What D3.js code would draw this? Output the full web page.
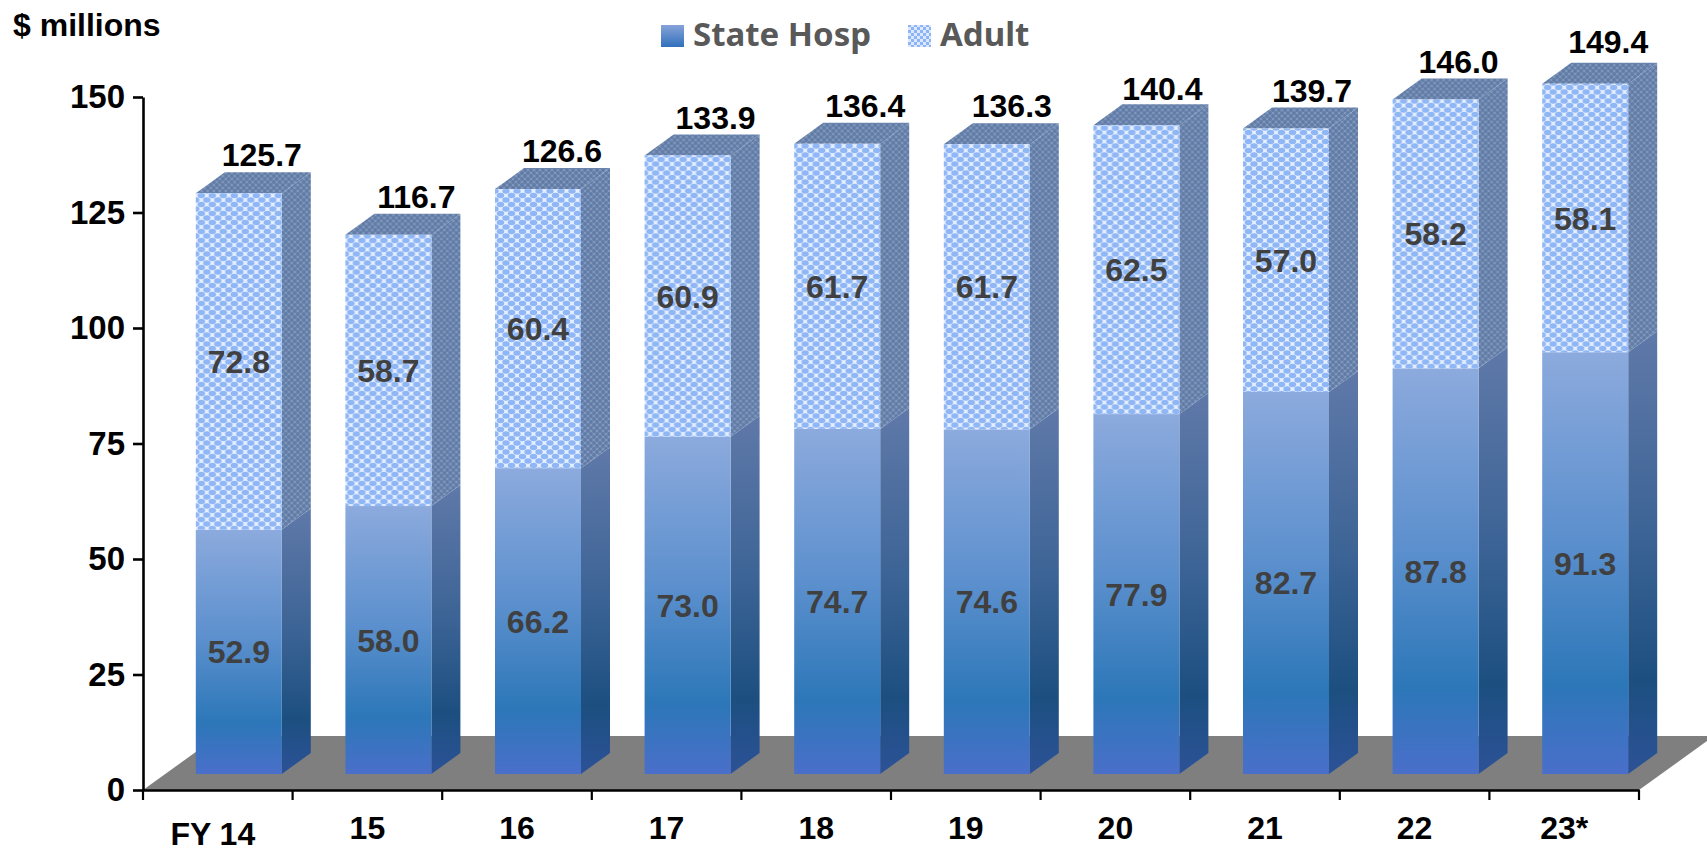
<!DOCTYPE html>
<html>
<head>
<meta charset="utf-8">
<title>State Hosp and Adult, $ millions</title>
<script src="https://cdn.jsdelivr.net/npm/d3@7"></script>
<style>
  html, body { margin: 0; padding: 0; background: #fff; overflow: hidden; }
  text { font-family: "Liberation Sans", Arial, sans-serif; font-weight: 700; }
</style>
</head>
<body>
<svg id="chart" width="1707" height="852"></svg>
<script>
// data
const categories = ['FY 14', '15', '16', '17', '18', '19', '20', '21', '22', '23*'];
const stateHosp  = [52.9, 58.0, 66.2, 73.0, 74.7, 74.6, 77.9, 82.7, 87.8, 91.3];
const adult      = [72.8, 58.7, 60.4, 60.9, 61.7, 61.7, 62.5, 57.0, 58.2, 58.1];
const totals     = [125.7, 116.7, 126.6, 133.9, 136.4, 136.3, 140.4, 139.7, 146.0, 149.4];
const yTicks     = [0, 25, 50, 75, 100, 125, 150];
const legendNames = ['State Hosp', 'Adult'];

// layout
const x0 = 143, x1 = 1639, yBase = 790, yTop = 97;
const shiftX = 21, shiftY = -16;      // bars stand a bit back from the axis
const depthX = 29, depthY = -21;      // 3d depth of one bar
const floorX = 75, floorY = -54;
const fontSize = 32;
// total labels were hand placed in the original
const totalNudgeX = [1, 6, 2, 6, 6, 3, 4, 4, 1, 1];
const totalNudgeY = [0, 0, 0, 1, 0, 0, 2, 0, 1, -4];

const svg = d3.select('#chart');
const defs = svg.append('defs');

function gradient(id, stops) {
  const g = defs.append('linearGradient').attr('id', id)
    .attr('x1', 0).attr('y1', 1).attr('x2', 0).attr('y2', 0);
  stops.forEach(s => g.append('stop').attr('offset', s[0]).attr('stop-color', s[1]));
}
gradient('frontGrad', [[0, '#4a6fca'], [0.21, '#2c77b8'], [0.55, '#5b8fcd'], [1, '#8caadd']]);
gradient('sideGrad', [[0, '#2c5297'], [0.21, '#1c4f80'], [0.55, '#3d6496'], [1, '#5f79a9']]);
gradient('legendGrad', [[0, '#3070bb'], [1, '#86a3d8']]);

// lattice for the Adult front
const lattice = defs.append('pattern').attr('id', 'adultFront')
  .attr('patternUnits', 'userSpaceOnUse').attr('width', 11).attr('height', 9);
lattice.append('rect').attr('width', 11).attr('height', 9).attr('fill', '#e6efff');
[[0, 0], [11, 0], [0, 9], [11, 9], [5.5, 4.5]].forEach(p => {
  lattice.append('ellipse').attr('cx', p[0]).attr('cy', p[1])
    .attr('rx', 3.7).attr('ry', 2.7).attr('fill', '#8fb6f5');
});

// finer and darker version for the side and top
const latticeDark = defs.append('pattern').attr('id', 'adultSide')
  .attr('patternUnits', 'userSpaceOnUse').attr('width', 6).attr('height', 6);
latticeDark.append('rect').attr('width', 6).attr('height', 6).attr('fill', '#8197bb');
[[0, 0], [6, 0], [0, 6], [6, 6], [3, 3]].forEach(p => {
  latticeDark.append('circle').attr('cx', p[0]).attr('cy', p[1]).attr('r', 1.9).attr('fill', '#5f7ba6');
});

const checker = defs.append('pattern').attr('id', 'adultLegend')
  .attr('patternUnits', 'userSpaceOnUse').attr('width', 6).attr('height', 6);
checker.append('rect').attr('width', 6).attr('height', 6).attr('fill', '#dbe8ff');
checker.append('rect').attr('width', 3).attr('height', 3).attr('fill', '#8db5f5');
checker.append('rect').attr('x', 3).attr('y', 3).attr('width', 3).attr('height', 3).attr('fill', '#8db5f5');

const x = d3.scaleBand().domain(categories).range([x0, x1]).paddingInner(0).paddingOuter(0);
const y = d3.scaleLinear().domain([0, 150]).range([yBase, yTop]);
const barW = 86;
const barLeft = c => x(c) + (x.bandwidth() - barW) / 2 + shiftX;
const line = d3.line();

// floor
svg.append('path')
  .attr('d', line([[x0, yBase], [x0 + floorX, yBase + floorY], [x1 + floorX, yBase + floorY], [x1, yBase]]) + 'Z')
  .attr('fill', '#7f7f7f');

// bars
const bars = svg.selectAll('g.bar')
  .data(categories.map((c, i) => ({ c, i, low: stateHosp[i], high: adult[i], total: totals[i] })))
  .join('g').attr('class', 'bar')
  .attr('transform', d => `translate(${barLeft(d.c)},${shiftY})`);

function sideFace(a, b) {
  return line([[barW, y(a)], [barW + depthX, y(a) + depthY], [barW + depthX, y(b) + depthY], [barW, y(b)]]) + 'Z';
}

bars.append('path').attr('d', d => sideFace(0, d.low)).attr('fill', 'url(#sideGrad)');
bars.append('path').attr('d', d => sideFace(d.low, d.low + d.high)).attr('fill', 'url(#adultSide)');
bars.append('path')
  .attr('d', d => {
    const t = y(d.low + d.high);
    return line([[0, t], [depthX, t + depthY], [barW + depthX, t + depthY], [barW, t]]) + 'Z';
  })
  .attr('fill', 'url(#adultSide)');
bars.append('rect').attr('width', barW)
  .attr('y', d => y(d.low)).attr('height', d => y(0) - y(d.low))
  .attr('fill', 'url(#frontGrad)');
bars.append('rect').attr('width', barW)
  .attr('y', d => y(d.low + d.high)).attr('height', d => y(d.low) - y(d.low + d.high))
  .attr('fill', 'url(#adultFront)');

// values inside the segments
bars.append('text').attr('x', barW / 2)
  .attr('y', d => y(d.low / 2) + fontSize * 0.36)
  .attr('text-anchor', 'middle').attr('font-size', fontSize).attr('fill', '#404040')
  .text(d => d.low.toFixed(1));
bars.append('text').attr('x', barW / 2)
  .attr('y', d => y(d.low + d.high / 2) + fontSize * 0.36)
  .attr('text-anchor', 'middle').attr('font-size', fontSize).attr('fill', '#404040')
  .text(d => d.high.toFixed(1));

// totals above the bars
bars.append('text')
  .attr('x', d => barW / 2 + 22 + totalNudgeX[d.i])
  .attr('y', d => y(d.low + d.high) + depthY - 6 + totalNudgeY[d.i])
  .attr('text-anchor', 'middle').attr('font-size', fontSize).attr('fill', '#000')
  .text(d => d.total.toFixed(1));

// axes
const yAxis = d3.axisLeft(y).tickValues(yTicks).tickSize(10).tickSizeOuter(0).tickPadding(8);
const gy = svg.append('g').attr('transform', `translate(${x0},0)`).call(yAxis);
gy.selectAll('text').attr('font-size', 33).attr('fill', '#000')
  .attr('font-family', '"Liberation Sans", Arial, sans-serif');
gy.selectAll('line, path').attr('stroke', '#000').attr('stroke-width', 2.6);

const xAxis = d3.axisBottom(x).tickSize(0).tickPadding(26);
const gx = svg.append('g').attr('transform', `translate(0,${yBase})`).call(xAxis);
gx.selectAll('text').attr('font-size', fontSize).attr('fill', '#000')
  .attr('font-family', '"Liberation Sans", Arial, sans-serif')
  .attr('dx', (d, i) => (i === 0 ? -5 : 0))
  .attr('dy', '0.71em')
  .attr('transform', (d, i) => (i === 0 ? 'translate(0,6)' : null));
gx.selectAll('.domain').attr('stroke', '#000').attr('stroke-width', 2.6);
gx.selectAll('.edge').data(categories.concat('end')).join('line').attr('class', 'edge')
  .attr('x1', d => (d === 'end' ? x1 : x(d))).attr('x2', d => (d === 'end' ? x1 : x(d)))
  .attr('y1', 0).attr('y2', 10).attr('stroke', '#000').attr('stroke-width', 2.2);

svg.append('text').attr('x', 13).attr('y', 36).attr('font-size', 32).attr('fill', '#000').text('$ millions');

// legend
const legendX = [661, 908];
const legendFill = ['url(#legendGrad)', 'url(#adultLegend)'];
const legend = svg.selectAll('g.legend').data(legendNames).join('g').attr('class', 'legend')
  .attr('transform', (d, i) => `translate(${legendX[i]},0)`);
legend.append('rect').attr('y', 25).attr('width', 23).attr('height', 22).attr('fill', (d, i) => legendFill[i]);
legend.append('text').attr('x', 32).attr('y', 46).attr('font-size', 33).attr('fill', '#595959')
  .style('font-family', '"Noto Sans", sans-serif').text(d => d);
</script>
</body>
</html>
